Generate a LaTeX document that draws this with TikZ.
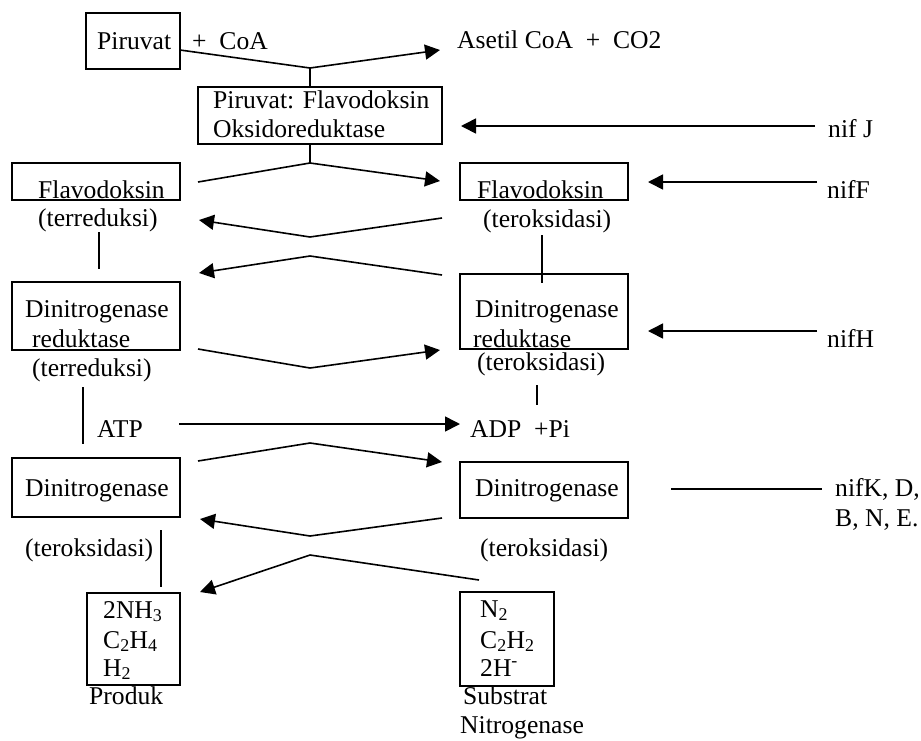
\documentclass[tikz,border=0pt]{standalone}
\usepackage{fontspec}
\setmainfont{Liberation Serif}
\usetikzlibrary{arrows.meta}
\begin{document}
\begin{tikzpicture}[x=1pt,y=-1pt,
  txt/.style={anchor=base west,inner sep=0pt,font=\fontsize{25.6}{30}\selectfont},
  box/.style={draw,line width=1.6pt,inner sep=0pt},
  con/.style={line width=1.6pt},
  arr/.style={line width=1.6pt,-{Triangle[length=15pt,width=15pt]}}]
\useasboundingbox (0,0) rectangle (921,740);
% boxes
\node[box,minimum width=94pt,minimum height=56pt] (pir) at (133,41) {};
\node[box,minimum width=244pt,minimum height=57pt] (pfo) at (320,115.5) {};
\node[box,minimum width=168pt,minimum height=37pt] (fl1) at (96,181.5) {};
\node[box,minimum width=168pt,minimum height=37pt] (fl2) at (544,181.5) {};
\node[box,minimum width=168pt,minimum height=68pt] (dr1) at (96,316) {};
\node[box,minimum width=168pt,minimum height=75pt] (dr2) at (544,311.5) {};
\node[box,minimum width=168pt,minimum height=59pt] (dn1) at (96,487.5) {};
\node[box,minimum width=168pt,minimum height=56pt] (dn2) at (544,490) {};
\node[box,minimum width=93pt,minimum height=92pt] (prod) at (133.5,639) {};
\node[box,minimum width=94pt,minimum height=94pt] (sub) at (507,639) {};
% texts
\node[txt] (tpir) at (97,49) {Piruvat};
\node[txt] (tcoa) at (192,49) {+\ \ CoA};
\node[txt] (tacet) at (457,48) {Asetil CoA\ \ +\ \ CO2};
\node[txt] (tpfo1) at (213,108) {Piruvat: Flavodoksin};
\node[txt] (tpfo2) at (213,137) {Oksidoreduktase};
\node[txt] (tnifj) at (828,137) {nif J};
\node[txt] (tfl1) at (38,198) {Flavodoksin};
\node[txt] (tfl1b) at (38,226) {(terreduksi)};
\node[txt] (tfl2) at (477,198) {Flavodoksin};
\node[txt] (tfl2b) at (483,227) {(teroksidasi)};
\node[txt] (tniff) at (827,198) {nifF};
\node[txt] (tdr1a) at (25,317) {Dinitrogenase};
\node[txt] (tdr1b) at (32,347) {reduktase};
\node[txt] (tdr1c) at (32,376) {(terreduksi)};
\node[txt] (tdr2a) at (475,317) {Dinitrogenase};
\node[txt] (tdr2b) at (473,347) {reduktase};
\node[txt] (tdr2c) at (477,370) {(teroksidasi)};
\node[txt] (tnifh) at (827,347) {nifH};
\node[txt] (tatp) at (97,437) {ATP};
\node[txt] (tadp) at (470,437) {ADP\ \ +Pi};
\node[txt] (tdn1) at (25,496) {Dinitrogenase};
\node[txt] (tdn2) at (475,496) {Dinitrogenase};
\node[txt] (tnifk1) at (835,496) {nifK, D,};
\node[txt] (tnifk2) at (835,526) {B, N, E.};
\node[txt] (tdn1b) at (25,556) {(teroksidasi)};
\node[txt] (tdn2b) at (480,556) {(teroksidasi)};
\node[txt] (tp1) at (103,618) {2NH\textsubscript{3}};
\node[txt] (tp2) at (103,648) {C\textsubscript{2}H\textsubscript{4}};
\node[txt] (tp3) at (103,676) {H\textsubscript{2}};
\node[txt] (tprod) at (89,704) {Produk};
\node[txt] (ts1) at (480,617) {N\textsubscript{2}};
\node[txt] (ts2) at (480,648) {C\textsubscript{2}H\textsubscript{2}};
\node[txt] (ts3) at (480,676) {2H\textsuperscript{-}};
\node[txt] (tsub) at (463,704) {Substrat};
\node[txt] (tnit) at (460,733) {Nitrogenase};
% coordinates
\coordinate (a1) at (180,50); \coordinate (a2) at (310,68); \coordinate (a3) at (440,50);
\coordinate (a4) at (310,87);
\coordinate (j1) at (815,126); \coordinate (j2) at (461,126);
\coordinate (b0) at (310,144); \coordinate (b2) at (310,163);
\coordinate (b1) at (198,182); \coordinate (b3) at (440,181);
\coordinate (c1) at (442,218); \coordinate (c2) at (310,237); \coordinate (c3) at (199,220);
\coordinate (d1) at (442,275); \coordinate (d2) at (310,256); \coordinate (d3) at (199,273);
\coordinate (v1a) at (99,232); \coordinate (v1b) at (99,269);
\coordinate (v2a) at (542,235); \coordinate (v2b) at (542,283);
\coordinate (f1) at (817,182); \coordinate (f2) at (648,182);
\coordinate (h1) at (817,331); \coordinate (h2) at (648,331);
\coordinate (e1) at (198,349); \coordinate (e2) at (310,368); \coordinate (e3) at (440,350);
\coordinate (v3a) at (83,387); \coordinate (v3b) at (83,444);
\coordinate (v4a) at (537,385); \coordinate (v4b) at (537,405);
\coordinate (t1) at (179,424); \coordinate (t2) at (460,424);
\coordinate (g1) at (198,461); \coordinate (g2) at (310,443); \coordinate (g3) at (442,462);
\coordinate (k1) at (442,518); \coordinate (k2) at (310,536); \coordinate (k3) at (200,519);
\coordinate (n1) at (671,489); \coordinate (n2) at (822,489);
\coordinate (v5a) at (161,530); \coordinate (v5b) at (161,587);
\coordinate (m1) at (479,580); \coordinate (m2) at (310,555); \coordinate (m3) at (200,592);
% connectors
\draw[arr] (a1) -- (a2) -- (a3);
\draw[con] (a2) -- (a4);
\draw[arr] (j1) -- (j2);
\draw[con] (b0) -- (b2);
\draw[arr] (b1) -- (b2) -- (b3);
\draw[arr] (c1) -- (c2) -- (c3);
\draw[arr] (d1) -- (d2) -- (d3);
\draw[con] (v1a) -- (v1b);
\draw[con] (v2a) -- (v2b);
\draw[arr] (f1) -- (f2);
\draw[arr] (h1) -- (h2);
\draw[arr] (e1) -- (e2) -- (e3);
\draw[con] (v3a) -- (v3b);
\draw[con] (v4a) -- (v4b);
\draw[arr] (t1) -- (t2);
\draw[arr] (g1) -- (g2) -- (g3);
\draw[arr] (k1) -- (k2) -- (k3);
\draw[con] (n1) -- (n2);
\draw[con] (v5a) -- (v5b);
\draw[arr] (m1) -- (m2) -- (m3);
\end{tikzpicture}
\end{document}
